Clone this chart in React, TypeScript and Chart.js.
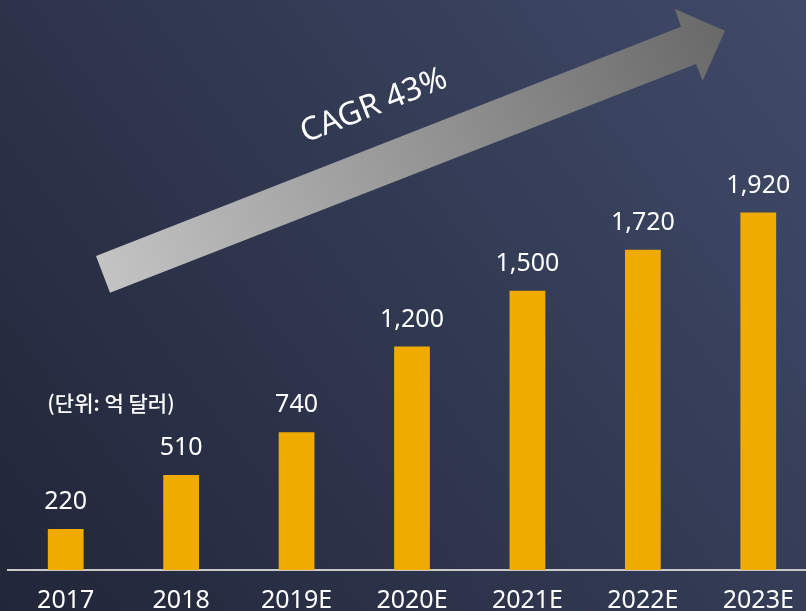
import React, { useEffect, useRef } from "react";
import { Chart, registerables } from "chart.js";

Chart.register(...registerables);

const categories = ["2017", "2018", "2019E", "2020E", "2021E", "2022E", "2023E"];
const marketSize = [220, 510, 740, 1200, 1500, 1720, 1920];
const valueLabels = ["220", "510", "740", "1,200", "1,500", "1,720", "1,920"];
const unitLabel = "(단위: 억 달러)";
const cagrLabel = "CAGR 43%";

const W = 806;
const H = 611;

const backgroundPlugin = {
  id: "bgGradient",
  beforeDraw(chart: any) {
    const ctx = chart.ctx;
    ctx.save();
    const g = ctx.createLinearGradient(0, H, W, 0);
    g.addColorStop(0, "#212638");
    g.addColorStop(1, "#404a69");
    ctx.fillStyle = g;
    ctx.fillRect(0, 0, chart.width, chart.height);
    ctx.restore();
  },
};

const arrowPlugin = {
  id: "cagrArrow",
  beforeDatasetsDraw(chart: any) {
    const ctx = chart.ctx;
    ctx.save();
    const pts = [
      [96, 256],
      [681, 26.7],
      [675, 9],
      [725, 30.7],
      [702.7, 80.7],
      [696, 64],
      [110, 292.7],
    ];
    const g = ctx.createLinearGradient(100, 275, 720, 40);
    g.addColorStop(0, "#c4c4c4");
    g.addColorStop(1, "#6a6a6a");
    ctx.fillStyle = g;
    ctx.beginPath();
    pts.forEach((p, i) => (i === 0 ? ctx.moveTo(p[0], p[1]) : ctx.lineTo(p[0], p[1])));
    ctx.closePath();
    ctx.fill();

    ctx.translate(374, 106);
    ctx.rotate((-21.5 * Math.PI) / 180);
    ctx.fillStyle = "#ffffff";
    ctx.font = "32px 'Noto Sans'";
    ctx.textAlign = "center";
    ctx.textBaseline = "middle";
    ctx.fillText(cagrLabel, 0, 0);
    ctx.restore();

    ctx.save();
    ctx.fillStyle = "#ffffff";
    ctx.font = "500 21px 'Noto Sans CJK KR'";
    ctx.textAlign = "center";
    ctx.textBaseline = "middle";
    ctx.fillText(unitLabel, 111, 403);
    ctx.restore();
  },
};

const valueLabelPlugin = {
  id: "valueLabels",
  afterDatasetsDraw(chart: any) {
    const ctx = chart.ctx;
    const meta = chart.getDatasetMeta(0);
    ctx.save();
    ctx.fillStyle = "#ffffff";
    ctx.font = "25px 'Noto Sans'";
    ctx.textAlign = "center";
    ctx.textBaseline = "alphabetic";
    meta.data.forEach((bar: any, i: number) => {
      ctx.fillText(valueLabels[i], bar.x, bar.y - 20);
    });
    ctx.restore();
  },
};

export default function App() {
  const ref = useRef<HTMLCanvasElement | null>(null);
  useEffect(() => {
    document.body.style.margin = "0";
    const canvas = ref.current!;
    const chart = new Chart(canvas, {
      type: "bar",
      data: {
        labels: categories,
        datasets: [
          {
            data: marketSize,
            backgroundColor: "#F0AB00",
            borderWidth: 0,
            barPercentage: 0.31,
            categoryPercentage: 1,
          },
        ],
      },
      options: {
        responsive: false,
        animation: false,
        devicePixelRatio: 1,
        layout: { padding: { left: 8, right: 0, top: 0, bottom: 0 } },
        plugins: { legend: { display: false }, tooltip: { enabled: false } },
        scales: {
          x: {
            grid: { display: false, drawTicks: false },
            border: { display: true, color: "#c9c9c9", width: 2 },
            ticks: {
              color: "#ffffff",
              font: { family: "'Noto Sans'", size: 25 },
              padding: 16,
              maxRotation: 0,
              autoSkip: false,
            },
          },
          y: {
            display: false,
            min: 0,
            max: 3062,
          },
        },
      },
      plugins: [backgroundPlugin, arrowPlugin, valueLabelPlugin],
    });
    return () => chart.destroy();
  }, []);
  return (
    <div
      style={{
        position: "absolute",
        left: 0,
        top: 0,
        width: W,
        height: H,
        overflow: "hidden",
      }}
    >
      <canvas ref={ref} width={816} height={632} style={{ display: "block", width: 816, height: 632 }} />
    </div>
  );
}
